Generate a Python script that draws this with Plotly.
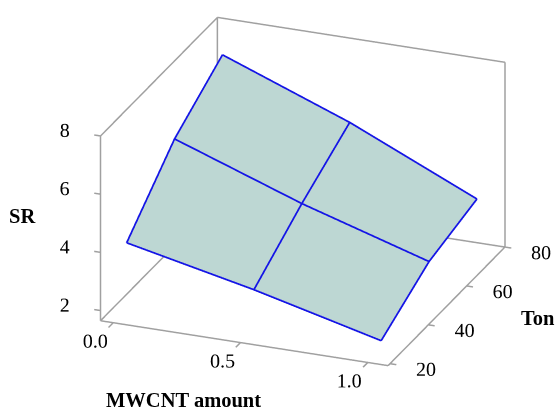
import plotly.graph_objects as go

# ---- data ----
mwcnt = [0.0, 0.5, 1.0]
ton = [26, 51, 76]
# SR[i][j] : row i = ton level, col j = mwcnt level
sr = [
    [3.93, 3.00, 1.93],
    [5.83, 4.29, 2.98],
    [7.05, 5.41, 3.46],
]
x_ticks = [0.0, 0.5, 1.0]
x_ticktext = ["0.0", "0.5", "1.0"]
y_ticks = [20, 40, 60, 80]
z_ticks = [2, 4, 6, 8]

# visible box (frame) limits
xr = [-0.05, 1.08]
yr = [19, 80]
zr = [1.65, 8.0]

surf_color = "#bdd7d3"
mesh_color = "#1414e6"
frame_color = "#a0a0a0"
font_family = "Liberation Serif, Times New Roman, serif"
tick_font = dict(family=font_family, size=20, color="black")

S = 1.63 / 1.087
base_aspect = (1.0 * S, 1.036 * S, 0.652 * S)
ed = (0.335, -0.854, 0.398)

# the scene's axis ranges are padded so that the outside ticks and tick
# labels are not clipped; the aspect is scaled by the same factor, and the
# padding is offset so the box sits right of / above the scene centre
PAD = 1.5
SHIFT = (0.0973, 0.0, 0.6307)
def padded(r, s):
    c = (r[0] + r[1]) / 2.0 - s
    h = (r[1] - r[0]) / 2.0 * PAD
    return [c - h, c + h]
aspect = dict(x=base_aspect[0] * PAD, y=base_aspect[1] * PAD, z=base_aspect[2] * PAD)

x0, x1 = xr
y0, y1 = yr
z0, z1 = zr
spans = (x1 - x0, y1 - y0, z1 - z0)

fig = go.Figure()

fig.add_trace(go.Surface(
    x=mwcnt, y=ton, z=sr,
    colorscale=[[0, surf_color], [1, surf_color]],
    showscale=False,
    lighting=dict(ambient=1.0, diffuse=0.0, specular=0.0, fresnel=0.0, roughness=1.0),
    hoverinfo="skip",
    contours=dict(x=dict(highlight=False), y=dict(highlight=False), z=dict(highlight=False)),
))

# mesh lines along the grid, nudged slightly toward the viewer so they sit on top
eps = 0.02
nud = [eps * ed[k] * spans[k] / (2 * base_aspect[k]) for k in range(3)]
lx, ly, lz = [], [], []
for i, t in enumerate(ton):
    for j, m in enumerate(mwcnt):
        lx.append(m + nud[0]); ly.append(t + nud[1]); lz.append(sr[i][j] + nud[2])
    lx.append(None); ly.append(None); lz.append(None)
for j, m in enumerate(mwcnt):
    for i, t in enumerate(ton):
        lx.append(m + nud[0]); ly.append(t + nud[1]); lz.append(sr[i][j] + nud[2])
    lx.append(None); ly.append(None); lz.append(None)
fig.add_trace(go.Scatter3d(x=lx, y=ly, z=lz, mode="lines",
                           line=dict(color=mesh_color, width=3.5),
                           hoverinfo="skip", showlegend=False))

# frame (floor + two back walls) and tick marks
edges = [
    ((x0, y0, z0), (x1, y0, z0)),
    ((x1, y0, z0), (x1, y1, z0)),
    ((x0, y0, z0), (x0, y1, z0)),
    ((x0, y1, z0), (x1, y1, z0)),
    ((x0, y0, z0), (x0, y0, z1)),
    ((x0, y1, z0), (x0, y1, z1)),
    ((x1, y1, z0), (x1, y1, z1)),
    ((x0, y0, z1), (x0, y1, z1)),
    ((x0, y1, z1), (x1, y1, z1)),
]
tk_x = 0.022 * spans[0]   # tick length along x (data units)
tk_y = 0.04 * spans[1]
for v in z_ticks:
    edges.append(((x0, y0, v), (x0 - tk_x, y0, v)))
for v in x_ticks:
    edges.append(((v, y0, z0), (v, y0 - tk_y, z0)))
for v in y_ticks:
    edges.append(((x1, v, z0), (x1 + tk_x, v, z0)))
fx, fy, fz = [], [], []
for a, b in edges:
    fx += [a[0], b[0], None]; fy += [a[1], b[1], None]; fz += [a[2], b[2], None]
fig.add_trace(go.Scatter3d(x=fx, y=fy, z=fz, mode="lines",
                           line=dict(color=frame_color, width=3),
                           hoverinfo="skip", showlegend=False))

# tick labels
fig.add_trace(go.Scatter3d(
    x=[x0 - 0.125 * spans[0]] * len(z_ticks), y=[y0] * len(z_ticks), z=z_ticks,
    mode="text", text=[str(v) for v in z_ticks], textposition="middle center",
    textfont=tick_font, hoverinfo="skip", showlegend=False))
fig.add_trace(go.Scatter3d(
    x=x_ticks, y=[y0 - 0.155 * spans[1]] * len(x_ticks), z=[z0] * len(x_ticks),
    mode="text", text=x_ticktext, textposition="middle center",
    textfont=tick_font, hoverinfo="skip", showlegend=False))
fig.add_trace(go.Scatter3d(
    x=[x1 + 0.125 * spans[0]] * len(y_ticks), y=y_ticks, z=[z0] * len(y_ticks),
    mode="text", text=[str(v) for v in y_ticks], textposition="middle center",
    textfont=tick_font, hoverinfo="skip", showlegend=False))

axis_common = dict(showgrid=False, showbackground=False, zeroline=False,
                   showline=False, showspikes=False, ticks="", showticklabels=False,
                   title=dict(text=""))

fig.update_layout(
    width=556, height=412,
    margin=dict(l=0, r=0, t=0, b=0),
    paper_bgcolor="white",
    showlegend=False,
    scene=dict(
        domain=dict(x=[0.0, 1.0], y=[0.0, 1.0]),
        xaxis=dict(range=padded(xr, SHIFT[0]), **axis_common),
        yaxis=dict(range=padded(yr, SHIFT[1]), **axis_common),
        zaxis=dict(range=padded(zr, SHIFT[2]), **axis_common),
        aspectmode="manual",
        aspectratio=aspect,
        camera=dict(eye=dict(x=ed[0] * 2, y=ed[1] * 2, z=ed[2] * 2),
                    up=dict(x=0, y=0, z=1),
                    center=dict(x=0, y=0, z=0),
                    projection=dict(type="orthographic")),
    ),
    annotations=[
        dict(text="<b>SR</b>", x=22, y=216),
        dict(text="<b>MWCNT amount</b>", x=183, y=400),
        dict(text="<b>Ton</b>", x=538, y=318),
    ],
)
# convert pixel positions of annotations to paper coords
for ann in fig.layout.annotations:
    ann.x = ann.x / 556.0
    ann.y = 1 - ann.y / 412.0
    ann.xref = "paper"; ann.yref = "paper"
    ann.xanchor = "center"; ann.yanchor = "middle"
    ann.showarrow = False
    ann.font = dict(family=font_family, size=20.5, color="black")

fig.write_html("out.html")
